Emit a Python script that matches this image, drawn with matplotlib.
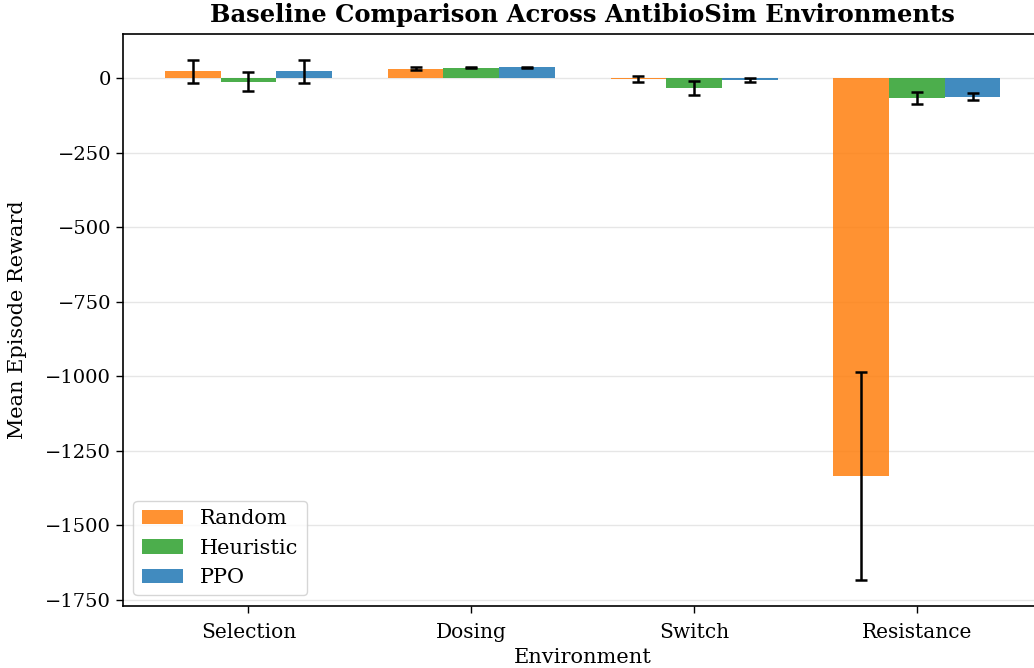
import matplotlib
matplotlib.use("Agg")
import matplotlib.pyplot as plt
import numpy as np

environments = ["Selection", "Dosing", "Switch", "Resistance"]
methods = ["Random", "Heuristic", "PPO"]
colors = ["#ff7f0e", "#2ca02c", "#1f77b4"]

random_mean = [22, 31, -3, -1335]
random_std = [38, 6, 10, 348]
heuristic_mean = [-12, 35, -33, -68]
heuristic_std = [31, 2, 24, 21]
ppo_mean = [22, 36, -6, -63]
ppo_std = [38, 2, 7, 11]


def main():
    plt.rcParams["font.family"] = "DejaVu Serif"
    fig = plt.figure(figsize=(10.34, 6.68), dpi=100)
    ax = fig.add_axes([0.119, 0.093, 0.889, 0.856])

    means = [random_mean, heuristic_mean, ppo_mean]
    stds = [random_std, heuristic_std, ppo_std]
    x = np.arange(len(environments))
    width = 0.25
    for i, (name, m, s, c) in enumerate(zip(methods, means, stds, colors)):
        ax.bar(x + (i - 1) * width, m, width, yerr=s, label=name, color=c,
               alpha=0.85, capsize=4.5,
               error_kw=dict(elinewidth=1.8, capthick=1.8, ecolor="black"),
               zorder=3)

    ax.set_xticks(x)
    ax.set_xticklabels(environments, fontsize=14.5)
    ax.tick_params(axis="y", labelsize=14)
    ax.tick_params(length=5, width=1)
    ax.tick_params(axis="x", pad=7)
    for sp in ax.spines.values():
        sp.set_linewidth(1.2)
    ax.grid(axis="y", color="#e6e6e6", linewidth=1, zorder=0)
    ax.set_axisbelow(True)
    ax.set_xlabel("Environment", fontsize=15, labelpad=5)
    ax.set_ylabel("Mean Episode Reward", fontsize=15, labelpad=13)
    ax.set_title("Baseline Comparison Across AntibioSim Environments",
                 fontsize=17.5, fontweight="bold", pad=9)
    ax.legend(loc="lower left", fontsize=15)

    fig.savefig("out.png", dpi=100)


if __name__ == "__main__":
    main()
